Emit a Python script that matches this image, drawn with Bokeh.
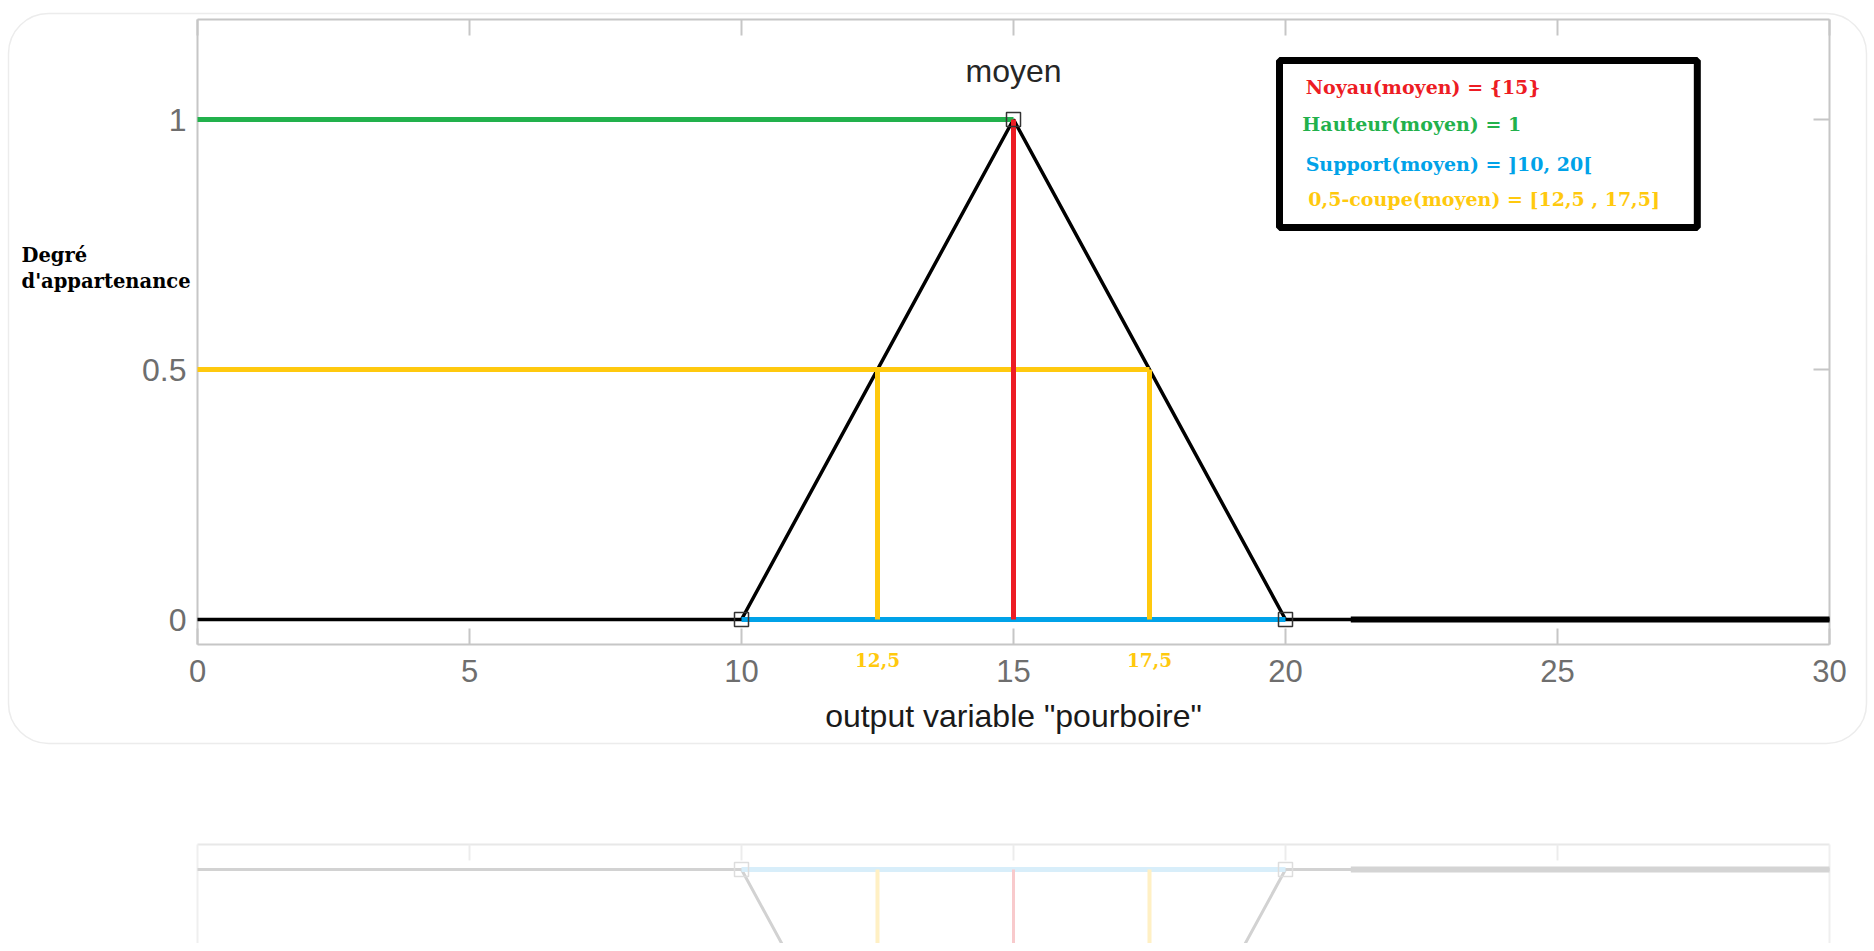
from bokeh.plotting import figure
from bokeh.models import Range1d, LinearAxis, Label, BoxAnnotation, FixedTicker
from bokeh.embed import file_html
from bokeh.resources import INLINE

# ---- data ----
mf_x = [0, 10, 15, 20, 30]          # triangular membership function "moyen"
mf_y = [0, 0, 1, 0, 0]
corner_x = [10, 15, 20]             # marker points of the MF
corner_y = [0, 1, 0]
thick_x = [21.2, 30]                # hand-thickened part of baseline
thick_y = [0, 0]
noyau_x = [15, 15]
noyau_y = [0, 1]
hauteur_x = [0, 15]
hauteur_y = [1, 1]
support_x = [10, 20]
support_y = [0, 0]
coupe_h_x = [0, 17.5]
coupe_h_y = [0.5, 0.5]
coupe_v1_x = [12.5, 12.5]
coupe_v2_x = [17.5, 17.5]
coupe_v_y = [0, 0.5]
coupe_labels = ["12,5", "17,5"]
coupe_label_x = [12.5, 17.5]
x_ticks = [0, 5, 10, 15, 20, 25, 30]
y_ticks = [0, 0.5, 1]
y_tick_labels = {0: "0", 0.5: "0.5", 1: "1"}
x_lim = (0, 30)
y_lim = (-0.05, 1.2)
legend_lines = [
    ("Noyau(moyen) = {15}", "#ed1c24"),
    ("Hauteur(moyen) = 1", "#22b14c"),
    ("Support(moyen) = ]10, 20[", "#00a2e8"),
    ("0,5-coupe(moyen) = [12,5 , 17,5]", "#ffc90e"),
]

BLACK = "#000000"
RED = "#ed1c24"
GREEN = "#22b14c"
BLUE = "#00a2e8"
GOLD = "#ffc90e"
FRAME = "#c6c6c6"
TICKTXT = "#6e6e6e"

# ---- canvas geometry (pixels) ----
W, H = 1870, 943
X0_PX, X30_PX = 197, 1829      # x = 0 and x = 30
Y0_PX, Y1_PX = 619, 119        # y = 0 and y = 1
R0_PX = 869                    # mirrored y = 0 in the reflection
SX = (X30_PX - X0_PX) / 30.0
SY = float(Y0_PX - Y1_PX)

def xv(px):
    return (px - X0_PX) / SX

def yv(py):
    return (Y0_PX - py) / SY

p = figure(width=W, height=H,
           x_range=Range1d(-X0_PX / SX, (W - X0_PX) / SX),
           y_range=Range1d((Y0_PX - H) / SY, Y0_PX / SY),
           x_axis_type=None, y_axis_type=None,
           output_backend="svg", toolbar_location=None,
           min_border_left=0, min_border_right=0, min_border_top=0, min_border_bottom=0)
p.outline_line_color = None
p.background_fill_color = "white"
p.border_fill_color = "white"
# reversed range for the mirrored reflection
p.extra_y_ranges = {"refl": Range1d(start=(H - R0_PX) / SY, end=-R0_PX / SY)}

# card behind the chart
p.add_layout(BoxAnnotation(left=xv(8), right=xv(1866), top=yv(13), bottom=yv(743),
                           fill_color=None, line_color="#ececec", line_alpha=1.0,
                           line_width=1.5, border_radius=40, level="underlay"))

def make_axis(ticks, loc, bounds, labels=True, color=FRAME):
    ax = LinearAxis(ticker=FixedTicker(ticks=ticks), fixed_location=loc, bounds=bounds)
    ax.level = "underlay"
    ax.major_tick_in = 16
    ax.major_tick_out = 0
    ax.minor_tick_line_color = None
    ax.major_tick_line_color = color
    ax.major_tick_line_width = 2
    ax.axis_line_color = color
    ax.axis_line_width = 2
    if labels:
        ax.major_label_text_font = "Liberation Sans"
        ax.major_label_text_font_size = "31px"
        ax.major_label_text_color = TICKTXT
    else:
        ax.major_label_text_font_size = "0px"
        ax.major_label_text_color = None
    return ax

xa = make_axis(x_ticks, y_lim[0], x_lim)
xa.major_label_standoff = 15
p.add_layout(xa, "below")
ta = make_axis(x_ticks, y_lim[1], x_lim, labels=False)
p.add_layout(ta, "above")
ya = make_axis(y_ticks, x_lim[0], y_lim)
ya.major_label_overrides = y_tick_labels
ya.major_label_text_font_size = "32px"
ya.major_label_standoff = 11
p.add_layout(ya, "left")
ra = make_axis(y_ticks, x_lim[1], y_lim, labels=False)
p.add_layout(ra, "right")

# ---- glyphs ----
p.line(mf_x, mf_y, line_color=BLACK, line_width=3.5)
p.line(thick_x, thick_y, line_color=BLACK, line_width=6)
p.line(support_x, support_y, line_color=BLUE, line_width=5)
p.line(coupe_h_x, coupe_h_y, line_color=GOLD, line_width=5)
p.line(coupe_v1_x, coupe_v_y, line_color=GOLD, line_width=5)
p.line(coupe_v2_x, coupe_v_y, line_color=GOLD, line_width=5)
p.line(hauteur_x, hauteur_y, line_color=GREEN, line_width=5)
p.line(noyau_x, noyau_y, line_color=RED, line_width=5)
p.scatter(corner_x, corner_y, marker="square", size=14, fill_color=None,
          line_color="#333333", line_width=1.5)

# ---- texts ----
p.add_layout(Label(x=15, y=yv(70), text="moyen", text_align="center", text_baseline="alphabetic",
                   text_font="Liberation Sans", text_font_size="32px", text_color="#262626"))
p.add_layout(Label(x=15, y=yv(715), text='output variable "pourboire"', text_align="center",
                   text_baseline="alphabetic", text_font="Liberation Sans", text_font_size="32px",
                   text_color="#1a1a1a"))
for t, lx in zip(coupe_labels, coupe_label_x):
    p.add_layout(Label(x=lx, y=yv(659), text=t, text_align="center", text_baseline="middle",
                       text_font="DejaVu Serif", text_font_style="bold", text_font_size="18.5px",
                       text_color=GOLD))
for t, py in zip(["Degré", "d'appartenance"], [255, 281]):
    p.add_layout(Label(x=xv(21), y=yv(py), text=t, text_align="left",
                       text_baseline="alphabetic", text_font="DejaVu Serif",
                       text_font_style="bold", text_font_size="19.5px", text_color="black"))

# legend box
p.add_layout(BoxAnnotation(left=19.89, right=27.57, top=1.118, bottom=0.784,
                           fill_color="white", fill_alpha=1.0,
                           line_color="black", line_alpha=1.0, line_width=7))
leg_x = [20.37, 20.31, 20.37, 20.42]
leg_y = [1.066, 0.992, 0.912, 0.842]
for (t, c), lx, ly in zip(legend_lines, leg_x, leg_y):
    p.add_layout(Label(x=lx, y=ly, text=t, text_align="left", text_baseline="alphabetic",
                       text_font="DejaVu Serif", text_font_style="bold", text_font_size="19px",
                       text_color=c))

# ---- faint mirrored reflection below the card ----
R = "refl"
p.line([x_lim[0], x_lim[1]], [y_lim[0], y_lim[0]], y_range_name=R, line_color="#e8e8e8", line_width=2)
p.line([x_lim[0], x_lim[0]], [y_lim[0], 0.2], y_range_name=R, line_color="#efefef", line_width=2)
p.line([x_lim[1], x_lim[1]], [y_lim[0], 0.2], y_range_name=R, line_color="#efefef", line_width=2)
p.segment(x0=x_ticks[1:-1], y0=[y_lim[0]] * 5, x1=x_ticks[1:-1], y1=[y_lim[0] + 0.032] * 5,
          y_range_name=R, line_color="#ececec", line_width=2)
p.line(mf_x, mf_y, y_range_name=R, line_color="#d2d2d2", line_width=3)
p.line(thick_x, thick_y, y_range_name=R, line_color="#d4d4d4", line_width=6)
p.line(support_x, support_y, y_range_name=R, line_color="#d8eefa", line_width=5)
p.line(coupe_v1_x, coupe_v_y, y_range_name=R, line_color="#fff0c4", line_width=4)
p.line(coupe_v2_x, coupe_v_y, y_range_name=R, line_color="#fff0c4", line_width=4)
p.line(noyau_x, noyau_y, y_range_name=R, line_color="#f8cacc", line_width=3)
p.scatter(corner_x, corner_y, y_range_name=R, marker="square", size=14, fill_color=None,
          line_color="#dddddd", line_width=1.5)

open("out.html", "w").write(file_html(p, INLINE))
